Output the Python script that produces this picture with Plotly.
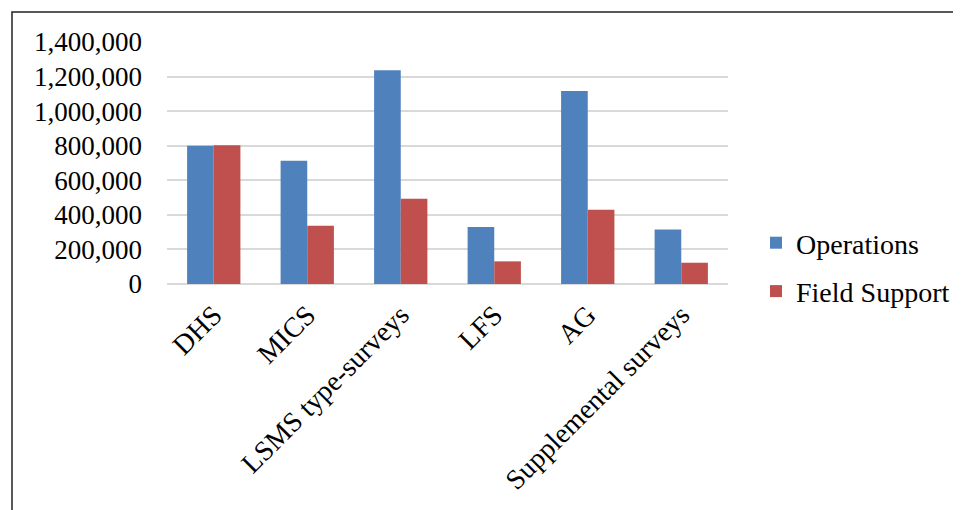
import plotly.graph_objects as go

categories = ["DHS", "MICS", "LSMS type-surveys", "LFS", "AG", "Supplemental surveys"]
operations = [800000, 713000, 1236000, 330000, 1116000, 316000]
field_support = [803000, 337000, 493000, 131000, 430000, 123000]
y_ticks = [0, 200000, 400000, 600000, 800000, 1000000, 1200000, 1400000]
y_tick_labels = ["0", "200,000", "400,000", "600,000", "800,000", "1,000,000", "1,200,000", "1,400,000"]

FONT = "Liberation Serif"
OFF = 8  # page body margin
W, H = 961, 510
pw, ph = 728 - 167, 284 - 42
L, T = 167 - OFF, 42 - OFF
R = W - L - pw
B = H - T - ph

fig = go.Figure()
fig.add_trace(go.Bar(name="Operations", x=categories, y=operations,
                     marker=dict(color="#4F81BD", line=dict(width=0)), legendgroup="a"))
fig.add_trace(go.Bar(name="Field Support", x=categories, y=field_support,
                     marker=dict(color="#C0504D", line=dict(width=0)), legendgroup="b"))

def px_x(x):
    return (x - 167) / pw

def px_y(y):
    return (284 - y) / ph

fig.update_layout(
    width=W, height=H,
    margin=dict(l=L, r=R, t=T, b=B, pad=0),
    paper_bgcolor="white", plot_bgcolor="white",
    font=dict(family=FONT, size=27, color="black"),
    barmode="group", bargap=0.43, bargroupgap=0,
    showlegend=True,
    legend=dict(x=px_x(756), y=px_y(218), xanchor="left", yanchor="top",
                tracegroupgap=9, font=dict(size=28, family=FONT),
                bgcolor="rgba(0,0,0,0)", itemwidth=30),
    shapes=[dict(type="rect", xref="paper", yref="paper",
                 x0=px_x(12), x1=px_x(975), y0=px_y(530), y1=px_y(12),
                 line=dict(color="#222222", width=1.5), layer="below")],
)
fig.update_xaxes(showgrid=False, showline=False, tickangle=-45, ticks="",
                 tickfont=dict(size=28, family=FONT), ticklabelstandoff=8)
fig.update_yaxes(range=[0, 1400000], tickvals=y_ticks, ticktext=y_tick_labels,
                 showgrid=True, gridcolor="#d9d9d9", gridwidth=1.5,
                 zeroline=True, zerolinecolor="#d9d9d9", zerolinewidth=1.5,
                 showline=False, ticks="", ticklabelstandoff=24,
                 tickfont=dict(size=27, family=FONT))

fig.write_html("out.html")
